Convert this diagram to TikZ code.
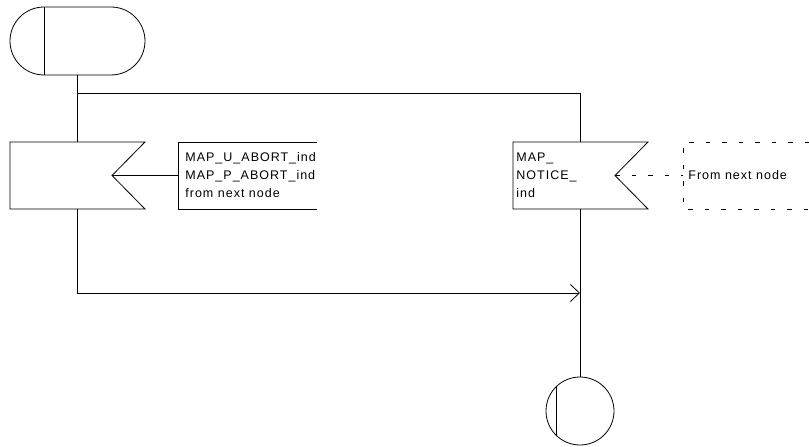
\documentclass[tikz,border=0pt]{standalone}
\usepackage{fontspec}
\setmainfont{Liberation Sans}
\newfontfamily\labfont[LetterSpace=8]{Liberation Sans}
\usetikzlibrary{arrows.meta}
\begin{document}
\begin{tikzpicture}[x=1pt,y=-1pt,line width=0.8pt,
  lab/.style={font=\labfont\fontsize{12.5}{18}\selectfont, align=left, inner sep=0pt, anchor=west},
  dsh/.style={dash pattern=on 4.5pt off 12pt},
  arr/.style={-{Straight Barb[length=9pt,width=17pt,line width=0.8pt]}}]
\useasboundingbox (0,0) rectangle (809,447);
% start state
\node[draw, rounded corners=34pt, minimum width=135pt, minimum height=68pt, inner sep=0pt] (st) at (77.5,41) {};
\draw (44,7) -- (44,75);
% input 1
\draw (10,142) -- (145,142) -- (112,175.5) -- (145,209) -- (10,209) -- cycle;
\coordinate (in1top) at (77.5,142);
\coordinate (in1bot) at (77.5,209);
\coordinate (in1notch) at (112,175.5);
\coordinate (t1w) at (178,175.5);
\draw (317,142) -- (178,142) -- (178,209) -- (317,209);
\node[lab] (t1) at (185,175.5) {MAP\_U\_ABORT\_ind\\MAP\_P\_ABORT\_ind\\from next node};
% input 2
\draw (513,142) -- (648,142) -- (615,175.5) -- (648,209) -- (513,209) -- cycle;
\coordinate (in2top) at (580,142);
\coordinate (in2bot) at (580,209);
\coordinate (in2notch) at (615,175.5);
\coordinate (t2w) at (683,175.5);
\node[lab] (t2) at (516,175.5) {MAP\_\\NOTICE\_\\ind};
\draw[dsh] (809,142) -- (683,142) -- (683,209) -- (809,209);
\node[lab] (t3) at (688,175.5) {From next node};
% end state
\node[draw, circle, minimum size=68pt, inner sep=0pt] (end) at (580,411) {};
\draw (556,387) -- (556,435);
% connectors
\coordinate (br) at (77.5,93);
\coordinate (j) at (580,293);
\draw (st.south) -- (in1top);
\draw (br) -- (580,93) -- (in2top);
\draw (in1notch) -- (t1w);
\draw[dsh] (in2notch) -- (t2w);
\draw[arr] (in1bot) |- (j);
\draw (in2bot) -- (end.north);
\end{tikzpicture}
\end{document}
